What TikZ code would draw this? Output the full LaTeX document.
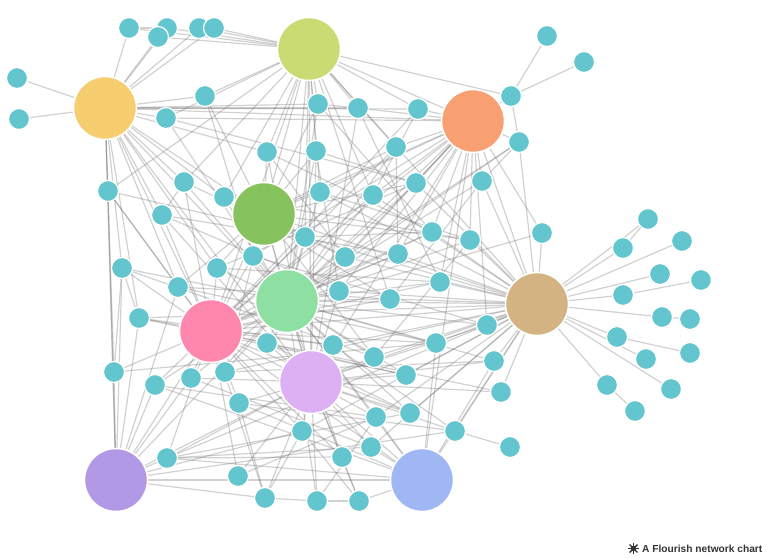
\documentclass[tikz,border=0pt]{standalone}
\usepackage{fontspec}
\setmainfont{Liberation Sans}
\pgfdeclarelayer{bg}
\pgfsetlayers{bg,main}
\definecolor{teal1}{HTML}{63C5CD}
\definecolor{cY}{HTML}{F6CD6F}
\definecolor{cL}{HTML}{C9DB72}
\definecolor{cO}{HTML}{F9A073}
\definecolor{cG}{HTML}{86C35E}
\definecolor{cM}{HTML}{8DE0A1}
\definecolor{cP}{HTML}{FF87AD}
\definecolor{cV}{HTML}{DCB0F3}
\definecolor{cT}{HTML}{D3B381}
\definecolor{cU}{HTML}{B299E6}
\definecolor{cB}{HTML}{9FB8F4}
\definecolor{edgec}{HTML}{707070}
\definecolor{foot}{HTML}{333333}
\tikzset{
  sm/.style={circle, fill=teal1, draw=white, line width=1.2pt, minimum size=21pt, inner sep=0pt},
  big/.style={circle, draw=white, line width=1.5pt, minimum size=63pt, inner sep=0pt},
  edge/.style={draw=edgec, opacity=0.32, line width=1.2pt},
  footer/.style={font=\fontsize{10.2}{11}\selectfont\bfseries, text=foot, inner sep=0pt, anchor=base west}
}
\begin{document}
\begin{tikzpicture}[x=1pt,y=-1pt]
\useasboundingbox (0,0) rectangle (768,558);
% large nodes
\node[big, fill=cY] (Y) at (105,108) {};
\node[big, fill=cL] (L) at (309,49) {};
\node[big, fill=cO] (O) at (473,121) {};
\node[big, fill=cG] (G) at (264,214) {};
\node[big, fill=cM] (M) at (287,301) {};
\node[big, fill=cP] (P) at (211,331) {};
\node[big, fill=cV] (V) at (311,382) {};
\node[big, fill=cT] (T) at (537,304) {};
\node[big, fill=cU] (U) at (116,480) {};
\node[big, fill=cB] (B) at (422,480) {};
% small nodes
\foreach \n/\x/\y in {1/129/28, 2/167/28, 3/158/37, 4/199/28, 5/214/28, 6/17/78, 7/19/119,
  8/205/96, 9/166/118, 10/318/104, 11/358/108, 12/418/109, 13/511/96, 14/547/36, 15/584/62,
  16/519/142, 17/396/147, 18/267/152, 19/316/151, 20/108/191, 21/184/182, 22/224/197,
  23/162/215, 24/320/192, 25/373/195, 26/416/183, 27/482/181, 28/542/233, 29/305/237,
  30/253/256, 31/217/268, 32/122/268, 33/178/287, 34/345/257, 35/398/254, 36/432/232,
  37/470/240, 38/440/282, 39/339/291, 40/390/299, 41/487/325, 42/139/318, 43/267/343,
  44/333/345, 45/374/357, 46/436/343, 47/494/361, 48/406/375, 49/114/372, 50/155/385,
  51/191/378, 52/225/372, 53/239/403, 54/501/392, 55/376/417, 56/410/413, 57/455/431,
  58/302/431, 59/371/447, 60/342/457, 61/510/447, 62/167/458, 63/238/476, 64/265/498,
  65/317/501, 66/359/501, 67/648/219, 68/623/248, 69/682/241, 70/660/274, 71/701/280,
  72/623/295, 73/662/317, 74/690/319, 75/617/337, 76/646/359, 77/690/353, 78/607/385,
  79/671/389, 80/635/411}
  \node[sm] (s\n) at (\x,\y) {};
% edges
\begin{pgfonlayer}{bg}
\foreach \a/\b in {s1/Y, s1/s2, s2/L, s3/L, s3/Y, s4/L, s4/Y, s5/L, s5/Y, s2/Y, s1/L,
  s6/Y, s7/Y, s8/Y, s8/L, s8/G, s9/Y, s9/L, s9/M, s9/O,
  s10/L, s10/Y, s10/M, s10/G, s10/s11, s11/L, s11/Y, s11/O, s11/V,
  s12/O, s12/L, s12/Y, s12/P, s13/O, s13/L, s13/s14, s13/s15, s13/s16,
  s16/O, s16/T, s16/M, s17/O, s17/L, s17/G, s17/M, s17/P,
  s18/Y, s18/L, s18/G, s18/V, s19/L, s19/G, s19/M, s19/V,
  s20/Y, s20/U, s20/P, s20/L, s21/Y, s21/L, s21/P, s21/s23, s21/M,
  s22/Y, s22/G, s22/M, s22/L, s23/P, s23/V, s23/Y,
  s24/L, s24/G, s24/M, s24/O, s24/T, s25/L, s25/O, s25/M, s25/P, s25/T,
  s26/O, s26/M, s26/G, s26/T, s27/O, s27/T, s27/M, s27/s16, s28/O, s28/T,
  s29/G, s29/M, s29/L, s29/P, s29/T, s30/G, s30/M, s30/P, s30/O,
  s31/P, s31/M, s31/Y, s31/G, s32/Y, s32/P, s32/U, s32/M,
  s33/P, s33/Y, s33/G, s33/U, s34/M, s34/O, s34/T, s34/G, s34/P,
  s35/O, s35/T, s35/M, s35/P, s36/O, s36/T, s36/M, s36/P,
  s37/O, s37/T, s37/P, s37/G, s38/T, s38/M, s38/O, s38/P,
  s39/M, s39/T, s39/V, s39/O, s40/T, s40/M, s40/P, s40/L,
  s41/T, s41/M, s41/V, s41/O, s42/P, s42/Y, s42/U, s42/T,
  s43/P, s43/M, s43/V, s43/O, s44/M, s44/V, s44/P, s44/T,
  s45/M, s45/T, s45/V, s45/G, s46/T, s46/M, s46/B, s46/P,
  s47/T, s47/V, s47/M, s47/B, s48/T, s48/V, s48/M, s48/P,
  s49/P, s49/U, s49/Y, s49/s32, s50/P, s50/U, s50/M, s50/B,
  s51/P, s51/M, s51/V, s51/U, s52/P, s52/M, s52/G, s52/T,
  s53/P, s53/B, s53/V, s53/s64, s54/T, s54/V,
  s55/V, s55/T, s55/B, s55/M, s56/V, s56/T, s56/M, s56/P,
  s57/T, s57/s61, s57/V, s57/U, s58/V, s58/P, s58/s64, s58/U, s58/T,
  s59/V, s59/B, s59/T, s59/s62, s60/V, s60/P, s60/s66, s60/M,
  s62/U, s62/P, s62/V, s62/T, s62/B, s63/V, s63/P,
  s64/U, s64/s65, s64/V, s64/P, s65/s66, s65/V, s65/M, s66/B, s66/V,
  s67/s68, s67/T, s68/T, s69/T, s70/T, s71/s72, s72/T, s73/T, s73/s74,
  s75/T, s75/s77, s76/T, s78/T, s78/s80, s79/T,
  Y/G, Y/M, Y/P, Y/U, Y/V, Y/O, L/G, L/M, L/P, L/O, L/V, L/T,
  O/T, O/M, O/G, O/P, O/V, G/M, G/P, G/T, G/V,
  M/P, M/V, M/T, M/B, M/U, P/V, P/U, P/T, P/B,
  V/T, V/B, V/U, T/B, U/B, B/O,
  s20/s29, s23/s35, s31/s38, s33/s40, s42/s44, s49/s46, s50/s55, s53/s57,
  s62/s56, s9/s26, s18/s36, s22/s37, s21/s34, s30/s41, s52/s47, s43/s54,
  s12/s25, s17/s35, s19/s26, s24/s37, s10/s36, s11/s38, s8/s30, s23/s39,
  s32/s45, s42/s48, s51/s59, s58/s66, s63/s55, s62/s60, s65/s55,
  s22/s40, s29/s36, s31/s26, s33/s46, s43/s56, s44/s57, s39/s28, s40/s27,
  s34/s16, s45/s37, s18/s34, s19/s39, s20/s33, s32/s42}
  \draw[edge] (\a) -- (\b);
\end{pgfonlayer}
% footer
\coordinate (logo) at (633.5,548.5);
\foreach \ang in {0,45,90,135}
  \draw[foot, line width=1.4pt] ([shift={(\ang:5.5pt)}]logo) -- ([shift={(\ang+180:5.5pt)}]logo);
\fill[foot] (logo) circle (2.8pt);
\node[footer] (ft) at (642,552.5) {A Flourish network chart};
\end{tikzpicture}
\end{document}
